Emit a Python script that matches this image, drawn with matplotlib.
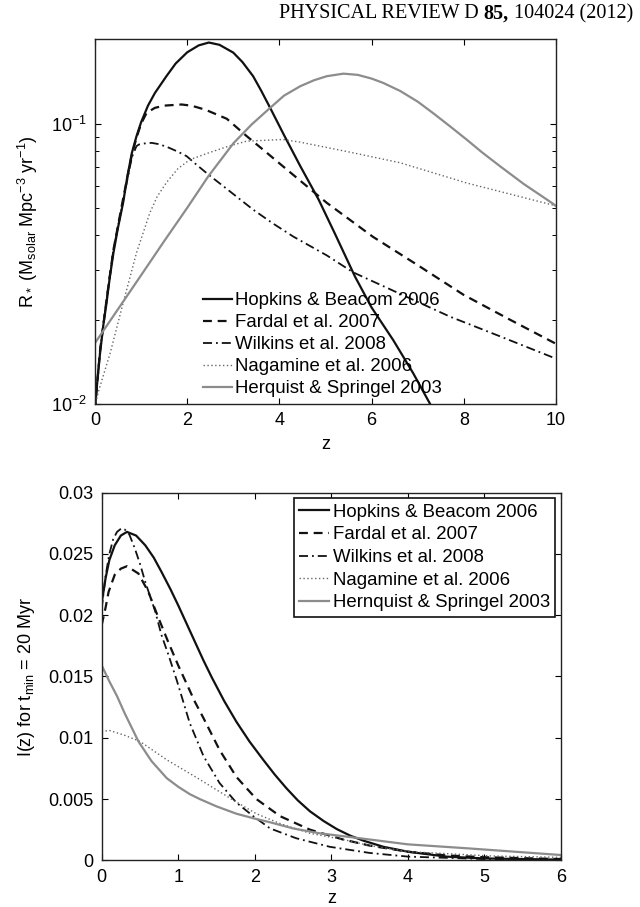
"""
Star formation rate models vs redshift (top) and the I(z) weighting
for t_min = 20 Myr (bottom), two stacked panels in MATLAB style.
"""

import matplotlib
matplotlib.use('Agg')  # headless
import matplotlib.pyplot as plt
from matplotlib.ticker import FixedLocator, FuncFormatter, LogLocator, NullFormatter

plt.rcParams['font.family'] = ['Liberation Sans', 'DejaVu Sans']
plt.rcParams['mathtext.fontset'] = 'custom'
plt.rcParams['mathtext.rm'] = 'Liberation Sans'
plt.rcParams['mathtext.it'] = 'Liberation Sans:italic'
plt.rcParams['mathtext.bf'] = 'Liberation Sans:bold'
plt.rcParams['font.size'] = 13


# ---------------------------------------------------------------------------
# Data
# ---------------------------------------------------------------------------

# Top panel: R_* (M_solar Mpc^-3 yr^-1) vs z
hb_top_z = [0, 0.04, 0.11, 0.18, 0.25, 0.32, 0.40, 0.5, 0.61, 0.7, 0.80, 0.9,
            1.0, 1.15, 1.3, 1.55, 1.75, 2.0, 2.25, 2.47, 2.7, 3.0, 3.2, 3.43,
            3.6, 3.8, 4.1, 4.45, 4.85, 5.2, 5.64, 6.0, 6.47, 6.9, 7.27, 7.6]
hb_top_r = [0.00955, 0.01153, 0.01517, 0.01905, 0.02291, 0.02818, 0.03459,
            0.04266, 0.05224, 0.06457, 0.0787, 0.0902, 0.1012, 0.1161, 0.1288,
            0.1479, 0.1641, 0.1799, 0.1905, 0.195, 0.1914, 0.1795, 0.166,
            0.1479, 0.1318, 0.114, 0.0912, 0.0708, 0.0537, 0.0407, 0.0285,
            0.0221, 0.0169, 0.0129, 0.0100, 0.0079]

fa_top_z = [0, 0.04, 0.11, 0.25, 0.40, 0.61, 0.80, 0.9, 1.0, 1.12, 1.3, 1.5,
            1.88, 2.1, 2.4, 2.86, 3.29, 3.7, 4.16, 4.6, 5.03, 5.5, 6.03, 7.0,
            8.0, 9.0, 10.0]
fa_top_r = [0.0095, 0.0115, 0.0155, 0.0235, 0.0355, 0.054, 0.0775, 0.0891,
            0.100, 0.1094, 0.114, 0.1161, 0.1172, 0.116, 0.1122, 0.1042, 0.0904,
            0.0795, 0.0687, 0.0598, 0.0522, 0.0458, 0.0395, 0.0313, 0.0245,
            0.0200, 0.0164]

wi_top_z = [0, 0.04, 0.11, 0.25, 0.40, 0.61, 0.80, 0.9, 0.95, 1.05, 1.23, 1.4,
            1.6, 1.8, 1.99, 2.2, 2.46, 2.8, 3.1, 3.43, 3.85, 4.30, 5.03, 5.6,
            6.6, 7.7, 8.8, 9.87, 10.0]
wi_top_r = [0.0095, 0.0115, 0.0155, 0.0235, 0.0355, 0.053, 0.076, 0.0832,
            0.0843, 0.0850, 0.0855, 0.0845, 0.0822, 0.0795, 0.0766, 0.0715,
            0.0659, 0.0596, 0.0545, 0.0494, 0.0442, 0.0396, 0.0339, 0.0295,
            0.0248, 0.0205, 0.0174, 0.0148, 0.0145]

na_top_z = [0, 0.07, 0.33, 0.61, 0.90, 1.19, 1.35, 1.55, 1.8, 2.06, 2.46, 2.9,
            3.29, 4.08, 4.45, 5.5, 6.62, 8.06, 9.91, 10.0]
na_top_r = [0.0098, 0.0110, 0.0152, 0.0229, 0.0346, 0.0481, 0.0550, 0.0617,
            0.0692, 0.0745, 0.0787, 0.0832, 0.0867, 0.0879, 0.0860, 0.0794,
            0.0726, 0.0615, 0.0514, 0.0510]

he_top_z = [0, 0.5, 1.0, 1.5, 2.0, 2.46, 3.0, 3.4, 3.8, 4.1, 4.45, 4.75, 5.03,
            5.39, 5.7, 6.0, 6.25, 6.62, 7.0, 7.34, 7.7, 8.06, 8.4, 8.79, 9.3,
            9.91, 10.0]
he_top_r = [0.0165, 0.0218, 0.0288, 0.0381, 0.0501, 0.0650, 0.0851, 0.0995,
            0.1140, 0.1260, 0.1361, 0.1430, 0.1479, 0.1510, 0.1495, 0.1450,
            0.1400, 0.1310, 0.1200, 0.1090, 0.0980, 0.0879, 0.0790, 0.0705,
            0.0610, 0.0522, 0.0509]

# Bottom panel: I(z) for t_min = 20 Myr vs z
hb_bot_z = [0, 0.05, 0.1, 0.17, 0.25, 0.33, 0.45, 0.57, 0.68, 0.78, 0.9, 1.0,
            1.11, 1.22, 1.33, 1.44, 1.6, 1.76, 1.93, 2.11, 2.26, 2.41, 2.56,
            2.72, 2.9, 3.07, 3.25, 3.42, 3.68, 4.0, 4.5, 5.0, 6.0]
hb_bot_i = [0.0210, 0.0230, 0.0245, 0.0257, 0.0265, 0.0268, 0.0265, 0.0257,
            0.0247, 0.02355, 0.0221, 0.0208, 0.0193, 0.0178, 0.0163, 0.0149,
            0.0130, 0.0113, 0.0097, 0.0082, 0.0070, 0.0059, 0.0049, 0.0040,
            0.0032, 0.00255, 0.0020, 0.0016, 0.0011, 0.0007, 0.0003, 0.00015,
            0.00005]

fa_bot_z = [0, 0.05, 0.09, 0.17, 0.25, 0.33, 0.48, 0.61, 0.74, 0.87, 1.0, 1.11,
            1.22, 1.33, 1.54, 1.76, 2.02, 2.33, 2.72, 3.15, 3.5, 4.0, 4.5, 5.0,
            6.0]
fa_bot_i = [0.0192, 0.0206, 0.0219, 0.0233, 0.0238, 0.0240, 0.0234, 0.0219,
            0.0198, 0.0178, 0.0159, 0.0144, 0.0129, 0.0116, 0.0090, 0.0068,
            0.0050, 0.0036, 0.0025, 0.0017, 0.0012, 0.0007, 0.0004, 0.00025,
            0.0001]

wi_bot_z = [0, 0.05, 0.1, 0.15, 0.2, 0.26, 0.3, 0.36, 0.43, 0.5, 0.57, 0.64,
            0.70, 0.78, 0.87, 0.98, 1.15, 1.33, 1.54, 1.76, 1.98, 2.2, 2.54,
            2.98, 3.5, 4.0, 5.0, 6.0]
wi_bot_i = [0.0205, 0.0232, 0.0250, 0.0262, 0.0268, 0.0271, 0.0270, 0.0266,
            0.0255, 0.0242, 0.0227, 0.0214, 0.0203, 0.0184, 0.0168, 0.0147,
            0.0112, 0.0085, 0.0063, 0.0047, 0.0036, 0.0026, 0.0018, 0.0011,
            0.0006, 0.0003, 0.0001, 0.00003]

na_bot_z = [0, 0.1, 0.3, 0.5, 0.85, 1.28, 1.72, 2.02, 2.33, 2.72, 3.15, 3.5,
            4.02, 5.1, 6.0]
na_bot_i = [0.0105, 0.0106, 0.0102, 0.0097, 0.0082, 0.0066, 0.0049, 0.0038,
            0.0030, 0.0022, 0.0017, 0.0012, 0.0007, 0.00035, 0.00024]

he_bot_z = [0, 0.1, 0.2, 0.3, 0.48, 0.65, 0.85, 1.0, 1.15, 1.28, 1.5, 1.76,
            2.0, 2.2, 2.5, 2.85, 3.37, 4.0, 4.77, 6.0]
he_bot_i = [0.0159, 0.0146, 0.0134, 0.0120, 0.0097, 0.0081, 0.0067, 0.0060,
            0.0054, 0.0050, 0.0044, 0.0038, 0.0034, 0.0031, 0.0026, 0.0022,
            0.0018, 0.0013, 0.00098, 0.00043]

top_labels = ['Hopkins & Beacom 2006', 'Fardal et al. 2007', 'Wilkins et al. 2008',
              'Nagamine et al. 2006', 'Herquist & Springel 2003']
bot_labels = ['Hopkins & Beacom 2006', 'Fardal et al. 2007', 'Wilkins et al. 2008',
              'Nagamine et al. 2006', 'Hernquist & Springel 2003']

top_xticks = [0, 2, 4, 6, 8, 10]
bot_xticks = [0, 1, 2, 3, 4, 5, 6]
bot_yticks = [0, 0.005, 0.01, 0.015, 0.02, 0.025, 0.03]

header = ('PHYSICAL REVIEW D', '85,', '104024 (2012)')


# ---------------------------------------------------------------------------
# Line styles (MATLAB-like)
# ---------------------------------------------------------------------------

styles = [
    dict(color='#111111', lw=1.6, ls='-'),
    dict(color='#111111', lw=1.6, dashes=(4, 2.6)),
    dict(color='#111111', lw=1.3, dashes=(5, 2.2, 1, 2.2)),
    dict(color='#666666', lw=1.0, dashes=(1, 1.8)),
    dict(color='#8c8c8c', lw=1.6, ls='-'),
]


def style_axes(ax):
    ax.tick_params(which='both', direction='in', top=True, right=True,
                   labelsize=13, pad=6)
    ax.tick_params(which='major', length=4.5, width=0.8)
    ax.tick_params(which='minor', length=3, width=0.7)
    for sp in ax.spines.values():
        sp.set_linewidth(1.0)
        sp.set_color('#222222')


fig = plt.figure(figsize=(6.4, 9.07), dpi=100)

# --- Top panel -------------------------------------------------------------
ax1 = fig.add_axes([0.1484, 0.5546, 0.7203, 0.4019])
top_series = [(hb_top_z, hb_top_r), (fa_top_z, fa_top_r), (wi_top_z, wi_top_r),
              (na_top_z, na_top_r), (he_top_z, he_top_r)]
for (z, r), st, lab in zip(top_series, styles, top_labels):
    ax1.plot(z, r, label=lab, **st)

ax1.set_yscale('log')
ax1.set_xlim(0, 10)
ax1.set_ylim(0.01, 0.2)
ax1.xaxis.set_major_locator(FixedLocator(top_xticks))
ax1.yaxis.set_major_locator(LogLocator(base=10))
ax1.yaxis.set_minor_locator(LogLocator(base=10, subs=range(2, 10)))
ax1.yaxis.set_minor_formatter(NullFormatter())
ax1.set_xlabel('z', labelpad=5)
ax1.set_ylabel(r'R$_*$ (M$_{\rm solar}$ Mpc$^{-3}$ yr$^{-1}$)', labelpad=8)
style_axes(ax1)
ax1.legend(loc='lower left', bbox_to_anchor=(0.235, 0.018), frameon=False,
           fontsize=13.4, handlelength=1.55, handletextpad=0.15,
           labelspacing=0.27, borderpad=0, borderaxespad=0)

# --- Bottom panel ----------------------------------------------------------
ax2 = fig.add_axes([0.1589, 0.0515, 0.7177, 0.4053])
bot_series = [(hb_bot_z, hb_bot_i), (fa_bot_z, fa_bot_i), (wi_bot_z, wi_bot_i),
              (na_bot_z, na_bot_i), (he_bot_z, he_bot_i)]
for (z, i), st, lab in zip(bot_series, styles, bot_labels):
    ax2.plot(z, i, label=lab, **st)

ax2.set_xlim(0, 6)
ax2.set_ylim(0, 0.03)
ax2.xaxis.set_major_locator(FixedLocator(bot_xticks))
ax2.yaxis.set_major_locator(FixedLocator(bot_yticks))
ax2.yaxis.set_major_formatter(FuncFormatter(lambda v, pos: f'{v:g}'))
ax2.set_xlabel('z', labelpad=3)
ax2.set_ylabel(r'I(z) for t$_{\rm min}$ = 20 Myr', labelpad=8)
style_axes(ax2)
leg = ax2.legend(loc='upper right', bbox_to_anchor=(1, 1), frameon=True,
                 fancybox=False, fontsize=13.4, handlelength=1.6,
                 handletextpad=0.2, labelspacing=0.3, borderpad=0.3,
                 borderaxespad=0.3)
leg.get_frame().set_edgecolor('#111111')
leg.get_frame().set_linewidth(1.2)
leg.get_frame().set_alpha(1)

# --- Journal header (serif, volume in bold) --------------------------------
renderer = fig.canvas.get_renderer()
hdr_y = 1 - 14 / 907
gap = 5  # px between words
x_right = 633
fonts = dict(family='Liberation Serif', fontsize=14.5, va='center', ha='right')
t3 = fig.text(x_right / 640, hdr_y, header[2], **fonts)
x3 = t3.get_window_extent(renderer).x0 - gap
t2 = fig.text(x3 / 640, hdr_y, header[1], weight='bold', **fonts)
x2 = t2.get_window_extent(renderer).x0 - gap
fig.text(x2 / 640, hdr_y, header[0], **fonts)

fig.savefig('out.png', dpi=100)
plt.close(fig)
